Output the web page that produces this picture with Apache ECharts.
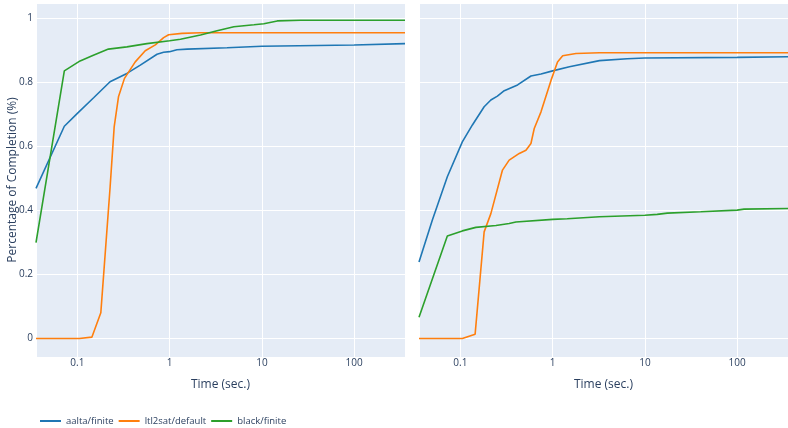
<!DOCTYPE html>
<html>
<head>
<meta charset="utf-8">
<script src="https://cdn.jsdelivr.net/npm/echarts@6/dist/echarts.min.js"></script>
<style>
  html, body { margin: 0; padding: 0; background: #fff; }
  #chart { width: 788px; height: 428px; }
</style>
</head>
<body>
<div id="chart"></div>
<script>
// Series names (legend order)
const seriesNames = ['aalta/finite', 'ltl2sat/default', 'black/finite'];
const seriesColors = ['#1f77b4', '#ff7f0e', '#2ca02c'];

// Time range shown on both panels (seconds)
const timeMin = 0.0356;
const timeMax = 356;

// Left panel: [time (s), fraction completed]
const leftAalta = [
  [0.0356, 0.469], [0.0722, 0.663], [0.1, 0.703], [0.15, 0.752], [0.226, 0.802],
  [0.344, 0.828], [0.481, 0.854], [0.73, 0.888], [0.86, 0.894], [1.0, 0.896],
  [1.2, 0.902], [1.55, 0.904], [4.2, 0.908], [10, 0.913], [100, 0.917], [356, 0.921]
];
const leftLtl2sat = [
  [0.0356, 0], [0.105, 0], [0.1435, 0.004], [0.1795, 0.08], [0.2265, 0.474],
  [0.2506, 0.661], [0.279, 0.755], [0.324, 0.8125], [0.424, 0.864], [0.544, 0.899],
  [0.7, 0.917], [0.861, 0.94], [0.975, 0.949], [1.36, 0.953], [2.16, 0.955], [356, 0.955]
];
const leftBlack = [
  [0.0356, 0.299], [0.0722, 0.836], [0.107, 0.867], [0.149, 0.885], [0.217, 0.904],
  [0.344, 0.911], [0.567, 0.921], [1.0, 0.93], [1.31, 0.935], [2.16, 0.948],
  [3.27, 0.961], [4.97, 0.974], [8.2, 0.98], [10.5, 0.983], [14.7, 0.992],
  [26.3, 0.994], [356, 0.994]
];

// Right panel: [time (s), fraction completed]
const rightAalta = [
  [0.0356, 0.239], [0.0497, 0.37], [0.0722, 0.505], [0.105, 0.614], [0.135, 0.667],
  [0.181, 0.724], [0.214, 0.745], [0.252, 0.757], [0.299, 0.774], [0.417, 0.792],
  [0.582, 0.82], [0.748, 0.826], [1.0, 0.836], [1.52, 0.849], [3.22, 0.868],
  [6.44, 0.874], [10, 0.876], [100, 0.878], [356, 0.88]
];
const rightLtl2sat = [
  [0.0356, 0], [0.105, 0], [0.1445, 0.0134], [0.181, 0.333], [0.214, 0.39],
  [0.286, 0.526], [0.338, 0.557], [0.435, 0.578], [0.514, 0.588], [0.582, 0.609],
  [0.632, 0.656], [0.748, 0.708], [0.962, 0.807], [1.13, 0.864], [1.285, 0.883],
  [1.79, 0.89], [3.22, 0.8925], [356, 0.8925]
];
const rightBlack = [
  [0.0356, 0.066], [0.0722, 0.32], [0.105, 0.336], [0.147, 0.347], [0.243, 0.353],
  [0.338, 0.359], [0.4, 0.364], [1.0, 0.372], [1.44, 0.374], [3.22, 0.38],
  [10, 0.385], [13.6, 0.3875], [17.5, 0.3915], [40.3, 0.396], [100, 0.401],
  [119, 0.404], [356, 0.406]
];

// Tick labels
const xTickLabels = { '-1': '0.1', '0': '1', '1': '10', '2': '100' };
const yTickValues = [0, 0.2, 0.4, 0.6, 0.8, 1];

const textColor = '#2a3f5f';
const fontFamily = '"Open Sans", "DejaVu Sans", sans-serif';

function xLabel(v) {
  const e = Math.log10(v);
  const r = Math.round(e);
  if (Math.abs(e - r) > 1e-6) return '';
  return xTickLabels[String(r)] || '';
}
function yLabel(v) {
  for (const t of yTickValues) {
    if (Math.abs(v - t) < 1e-6) return String(t);
  }
  return '';
}

function xAxisFor(gridIndex) {
  return {
    type: 'log', logBase: 10, gridIndex,
    min: timeMin, max: timeMax,
    name: 'Time (sec.)', nameLocation: 'middle', nameGap: 22,
    nameMoveOverlap: false,
    nameTextStyle: { color: textColor, fontSize: 12, fontFamily },
    axisLine: { show: false }, axisTick: { show: false },
    axisLabel: { color: textColor, fontSize: 10, fontFamily, margin: 1, formatter: xLabel,
                 showMinLabel: false, showMaxLabel: false },
    splitLine: { show: true, lineStyle: { color: '#ffffff', width: 1 } },
    minorSplitLine: { show: false }
  };
}
function yAxisFor(gridIndex, showLabels) {
  return {
    type: 'value', gridIndex,
    min: -0.058, max: 1.048,
    splitNumber: 5,
    name: showLabels ? 'Percentage of Completion (%)' : '',
    nameLocation: 'middle', nameGap: 17,
    nameMoveOverlap: false,
    nameTextStyle: { color: textColor, fontSize: 12, fontFamily },
    axisLine: { show: false }, axisTick: { show: false },
    axisLabel: { show: showLabels, color: textColor, fontSize: 10, fontFamily, margin: 3,
                 formatter: yLabel, showMinLabel: false, showMaxLabel: false },
    splitLine: { show: true, lineStyle: { color: '#ffffff', width: 1 } }
  };
}

function lineSeries(idx, data, xi) {
  return {
    name: seriesNames[idx], type: 'line', data,
    xAxisIndex: xi, yAxisIndex: xi,
    symbol: 'none', smooth: false, animation: false,
    lineStyle: { color: seriesColors[idx], width: 1.6 },
    itemStyle: { color: seriesColors[idx] }
  };
}

const chart = echarts.init(document.getElementById('chart'), null, { renderer: 'canvas' });
chart.setOption({
  animation: false,
  backgroundColor: '#ffffff',
  grid: [
    { left: 36, top: 3, width: 369, height: 354, backgroundColor: '#e5ecf6', show: true, borderWidth: 0 },
    { left: 419, top: 3, width: 369, height: 354, backgroundColor: '#e5ecf6', show: true, borderWidth: 0 }
  ],
  xAxis: [xAxisFor(0), xAxisFor(1)],
  yAxis: [yAxisFor(0, true), yAxisFor(1, false)],
  legend: {
    left: 40, top: 416, orient: 'horizontal', padding: 0,
    icon: 'rect', itemWidth: 21, itemHeight: 2, itemGap: 5,
    textStyle: { color: textColor, fontSize: 9.5, fontFamily },
    data: seriesNames
  },
  series: [
    lineSeries(0, leftAalta, 0),
    lineSeries(1, leftLtl2sat, 0),
    lineSeries(2, leftBlack, 0),
    lineSeries(0, rightAalta, 1),
    lineSeries(1, rightLtl2sat, 1),
    lineSeries(2, rightBlack, 1)
  ]
});
</script>
</body>
</html>
